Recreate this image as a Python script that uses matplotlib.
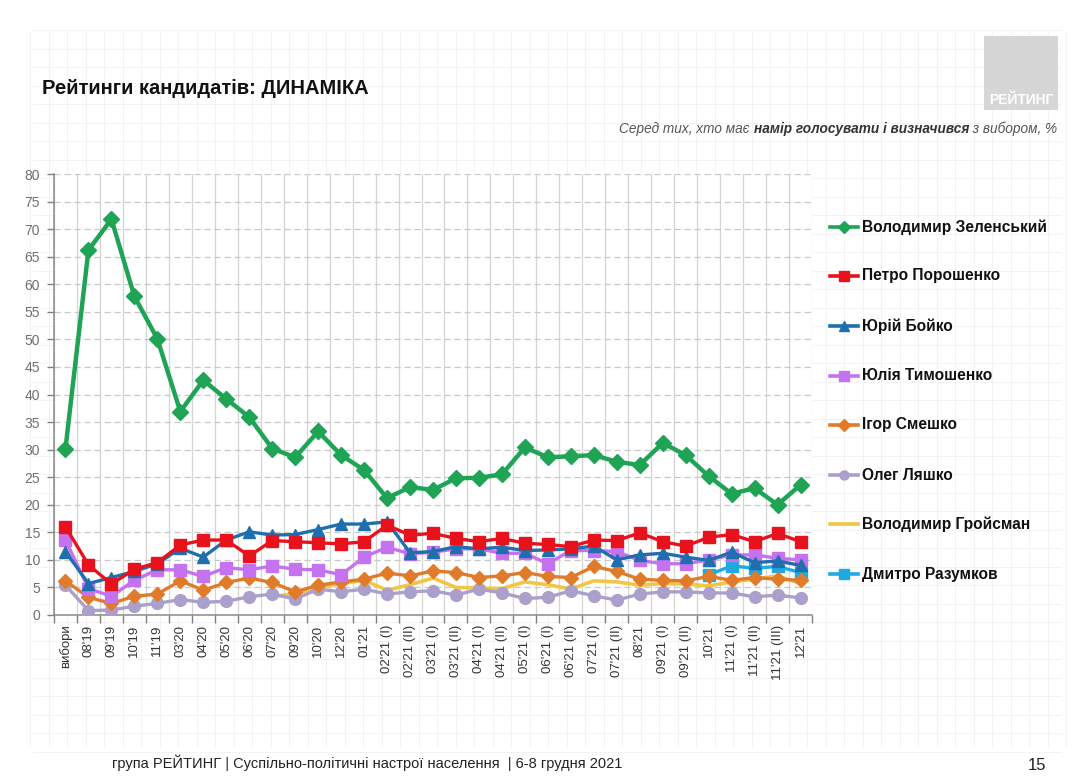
import numpy as np
import matplotlib
matplotlib.use("Agg")
import matplotlib.pyplot as plt
from matplotlib import font_manager
from matplotlib.lines import Line2D

nan = np.nan

categories = ["вибори", "08'19", "09'19", "10'19", "11'19", "03'20", "04'20", "05'20",
              "06'20", "07'20", "09'20", "10'20", "12'20", "01'21", "02'21 (I)", "02'21 (II)",
              "03'21 (I)", "03'21 (II)", "04'21 (I)", "04'21 (II)", "05'21 (I)", "06'21 (I)",
              "06'21 (II)", "07'21 (I)", "07'21 (II)", "08'21", "09'21 (I)", "09'21 (II)",
              "10'21", "11'21 (I)", "11'21 (II)", "11'21 (III)", "12'21"]

zelensky = [30.2, 66.2, 71.8, 57.8, 50.1, 36.9, 42.6, 39.2, 35.9, 30.2, 28.6, 33.3, 29.0,
            26.3, 21.2, 23.2, 22.7, 24.8, 24.9, 25.5, 30.4, 28.6, 28.8, 29.0, 27.8, 27.2,
            31.2, 29.0, 25.2, 22.0, 23.0, 20.0, 23.6]
poroshenko = [16.0, 9.1, 5.6, 8.3, 9.5, 12.7, 13.6, 13.6, 10.7, 13.5, 13.3, 13.1, 12.9,
              13.3, 16.3, 14.5, 14.8, 13.9, 13.3, 13.9, 13.0, 12.8, 12.4, 13.6, 13.5, 14.9,
              13.3, 12.5, 14.1, 14.6, 13.3, 14.8, 13.3]
boyko = [11.5, 5.7, 6.8, 7.9, 9.3, 12.1, 10.5, 13.6, 15.1, 14.5, 14.6, 15.5, 16.5, 16.5,
         16.9, 11.3, 11.5, 12.4, 12.0, 12.3, 11.7, 11.8, 12.0, 12.5, 10.0, 10.9, 11.2, 10.5,
         9.9, 11.4, 9.5, 9.8, 9.0]
tymoshenko = [13.6, 4.8, 3.4, 6.3, 8.2, 8.2, 7.0, 8.6, 8.2, 8.9, 8.3, 8.2, 7.3, 10.5, 12.3,
              11.1, 11.4, 12.0, 12.0, 11.2, 11.2, 9.3, 11.7, 11.7, 11.5, 9.9, 9.3, 9.3, 10.0,
              10.9, 10.9, 10.3, 10.0]
smeshko = [6.2, 3.2, 2.1, 3.4, 3.8, 6.2, 4.5, 5.9, 6.7, 5.9, 4.2, 5.4, 6.0, 6.5, 7.6, 7.1,
           8.0, 7.7, 6.8, 7.1, 7.7, 7.0, 6.8, 8.8, 7.9, 6.5, 6.3, 6.2, 7.0, 6.3, 6.8, 6.5, 6.3]
lyashko = [5.4, 0.8, 0.9, 1.6, 2.1, 2.8, 2.3, 2.5, 3.3, 3.8, 2.9, 4.7, 4.2, 4.7, 3.8, 4.2,
           4.4, 3.6, 4.7, 4.0, 3.0, 3.2, 4.4, 3.5, 2.7, 3.8, 4.2, 4.2, 4.0, 4.0, 3.3, 3.6, 3.1]
groysman = [nan, nan, nan, nan, nan, nan, nan, nan, nan, 3.3, 3.9, 5.0, 5.7, 6.3, 4.5, 5.5,
            6.7, 5.0, 4.9, 4.8, 6.0, 5.5, 4.7, 6.2, 6.0, 5.4, 5.7, 5.6, 5.3, 6.0, 6.5, 7.1, 5.7]
razumkov = [nan] * 28 + [7.3, 8.9, 8.5, 8.8, 7.7]

names = ["Володимир Зеленський", "Петро Порошенко", "Юрій Бойко", "Юлія Тимошенко",
         "Ігор Смешко", "Олег Ляшко", "Володимир Гройсман", "Дмитро Разумков"]
y_ticks = list(range(0, 85, 5))

# ---------------- styling ----------------
avail = {f.name for f in font_manager.fontManager.ttflist}
NARROW = "Liberation Sans Narrow" if "Liberation Sans Narrow" in avail else "Liberation Sans"
SANS = "Liberation Sans"
plt.rcParams["font.family"] = [SANS, "DejaVu Sans"]

W, H = 1088, 778
fig = plt.figure(figsize=(W / 100, H / 100), dpi=100)
fig.patch.set_facecolor("white")

def fx(px):
    return px / W

def fy(py):
    return 1 - py / H

# faint graph-paper background
bg = fig.add_axes([0, 0, 1, 1], zorder=-5)
bg.set_xlim(0, W)
bg.set_ylim(H, 0)
bg.axis("off")
for gx in np.arange(30, W - 20, 18.5):
    bg.axvline(gx, ymin=0.04, ymax=0.96, color="#f1f1f1", lw=0.6)
for gy in np.arange(30, H - 25, 18.5):
    bg.axhline(gy, xmin=0.03, xmax=0.975, color="#f1f1f1", lw=0.6)

# main axes
ax = fig.add_axes([fx(54), fy(615), fx(812) - fx(54), fy(174) - fy(615)])
ax.set_facecolor("white")
x = np.arange(len(categories))

styles = [
    (zelensky, "#1fa456", "D", 3.2, 8.0),
    (poroshenko, "#e8121c", "s", 2.4, 8.5),
    (boyko, "#1f6fae", "^", 2.4, 8.5),
    (tymoshenko, "#c472ef", "s", 2.4, 8.5),
    (smeshko, "#e07b2b", "D", 2.4, 7.5),
    (lyashko, "#ab9fcb", "o", 2.4, 8.5),
    (groysman, "#f2c545", None, 2.6, 0),
    (razumkov, "#1ea9e1", "s", 2.4, 8.5),
]
order = [6, 5, 4, 3, 2, 1, 7, 0]
for i in order:
    vals, col, mk, lw, ms = styles[i]
    ax.plot(x, vals, color=col, lw=lw, marker=mk, markersize=ms,
            markeredgecolor=col, zorder=3 + (8 - i) * 0.1 if i != 0 else 5)

ax.set_xlim(-0.5, len(categories) - 0.5)
ax.set_ylim(0, 80)
ax.set_yticks(y_ticks)
ax.set_yticklabels([str(v) for v in y_ticks], fontsize=10, color="#6f6f6f", family=SANS)
ax.set_xticks(x)
ax.set_xticklabels(categories, rotation=90, fontsize=9.5, color="#333333", family=SANS)
ax.set_xticks(np.arange(-0.5, len(categories), 1), minor=True)
ax.tick_params(axis="x", which="major", length=0, pad=7)
ax.tick_params(axis="x", which="minor", length=6, color="#808080", width=1)
ax.tick_params(axis="y", length=5, color="#808080", width=1, pad=5)
ax.grid(axis="y", which="major", color="#c8c8c8", ls=(0, (5, 3)), lw=0.9)
ax.grid(axis="x", which="minor", color="#d4d4d4", ls="-", lw=0.9)
ax.set_axisbelow(True)
for s in ["top", "right"]:
    ax.spines[s].set_visible(False)
for s in ["left", "bottom"]:
    ax.spines[s].set_color("#8a8a8a")
    ax.spines[s].set_linewidth(1.1)

# legend (manual)
leg_y = [227, 276, 326, 376, 425, 475, 524, 574]
for i, (nm, yy) in enumerate(zip(names, leg_y)):
    vals, col, mk, lw, ms = styles[i]
    fig.add_artist(Line2D([fx(830), fx(858)], [fy(yy), fy(yy)], color=col, lw=2.6,
                          transform=fig.transFigure))
    if mk:
        fig.add_artist(Line2D([fx(844)], [fy(yy)], color=col, marker=mk, markersize=6.5,
                              transform=fig.transFigure))
    fig.text(fx(862), fy(yy), nm, fontsize=11.2, fontweight="bold", color="#111111",
             va="center", ha="left", family=SANS)

# title
fig.text(fx(42), fy(88), "Рейтинги кандидатів: ДИНАМІКА", fontsize=14.5, fontweight="bold",
         color="#111111", va="center", ha="left", family=NARROW)

# logo box
fig.add_artist(plt.Rectangle((fx(984), fy(110)), fx(1058) - fx(984), fy(36) - fy(110),
                             transform=fig.transFigure, facecolor="#d6d6d6",
                             edgecolor="none"))
fig.text(fx(1021), fy(100), "РЕЙТИНГ", fontsize=10, fontweight="bold", color="white",
         ha="center", va="center", family=NARROW)

# subtitle with mixed weights, right aligned
renderer = fig.canvas.get_renderer()
pieces = [(" з вибором, %", "normal"), ("намір голосувати і визначився", "bold"),
          ("Серед тих, хто має ", "normal")]
xr = fx(1057)
for txt, wt in pieces:
    t = fig.text(xr, fy(129), txt, fontsize=9.8, style="italic", fontweight=wt,
                 color="#555555" if wt == "normal" else "#333333",
                 ha="right", va="center", family=NARROW)
    bb = t.get_window_extent(renderer)
    xr = bb.x0 / fig.bbox.width

# footer
fig.text(fx(112), fy(763), "група РЕЙТИНГ | Суспільно-політичні настрої населення  | 6-8 грудня 2021",
         fontsize=10.5, color="#222222", ha="left", va="center", family=NARROW)
fig.text(fx(1046), fy(765), "15", fontsize=12, color="#222222", ha="right", va="center",
         family=NARROW)

fig.savefig("out.png", dpi=100, facecolor="white")
